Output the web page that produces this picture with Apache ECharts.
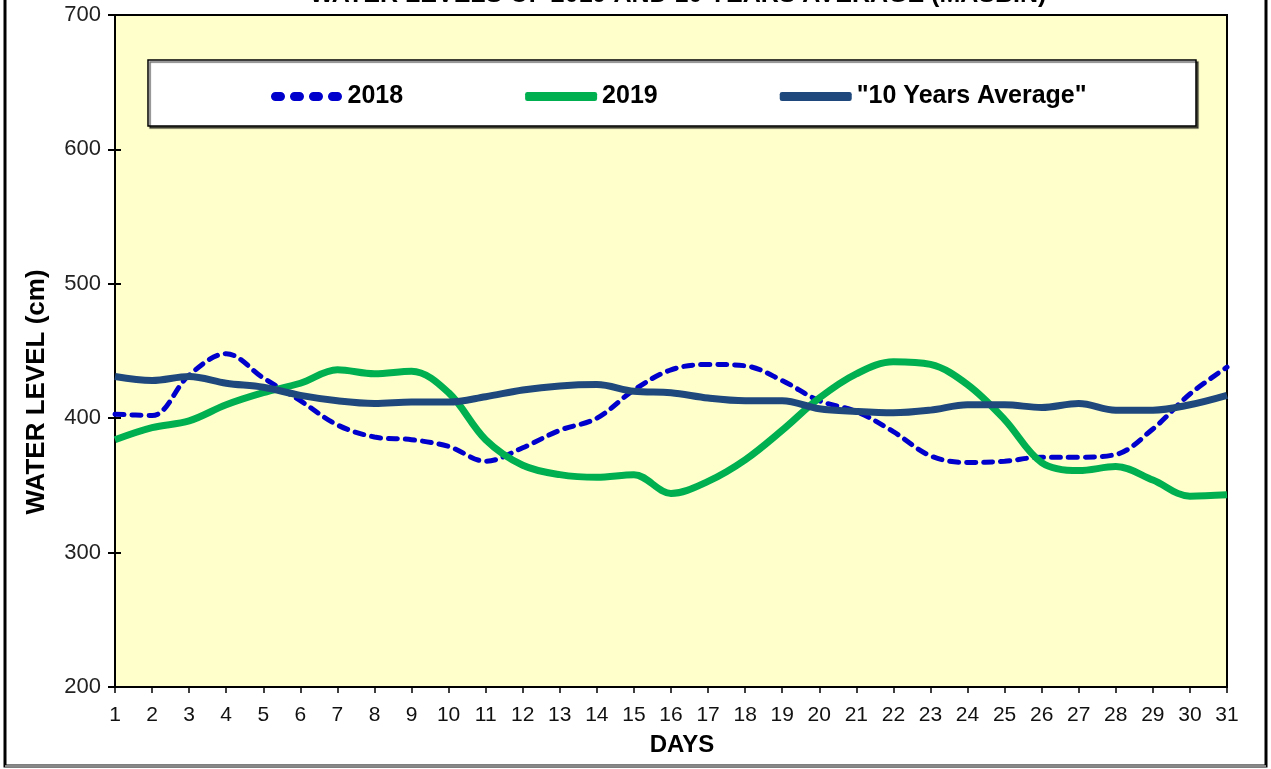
<!DOCTYPE html>
<html>
<head>
<meta charset="utf-8">
<script src="https://cdn.jsdelivr.net/npm/echarts@6/dist/echarts.min.js"></script>
<style>
html,body{margin:0;padding:0;background:#fff;}
#chart{width:1271px;height:769px;}
</style>
</head>
<body>
<div id="chart"></div>
<script>
const days = ['1','2','3','4','5','6','7','8','9','10','11','12','13','14','15','16','17','18','19','20','21','22','23','24','25','26','27','28','29','30','31'];
const y2018 = [403,402,432,448,430,413,395,386,384,379,368,378,391,400,421,436,440,439,428,413,405,390,372,367,368,371,371,373,392,418,438];
const y2019 = [384,393,398,410,419,426,436,433,435,419,384,365,358,356,358,344,353,369,391,415,433,442,440,425,399,367,361,364,354,342,343];
const yAvg = [431,428,431,426,423,417,413,411,412,412,416,421,424,425,420,419,415,413,413,407,405,404,406,410,410,408,411,406,406,410,417];
const yTicks = {min:200, max:700, interval:100};
const seriesNames = ['2018','2019','"10 Years Average"'];
const titleText = 'WATER LEVELS OF 2019 AND 10 YEARS AVERAGE (MASBIN)';

const chart = echarts.init(document.getElementById('chart'));
const FONT = 'Liberation Sans, Arial, sans-serif';
const NARROW = 'Liberation Sans Narrow, Arial Narrow, Liberation Sans, sans-serif';
const dashIcon = 'path://M4.5,0h5a4.5,4.5 0 0 1 0,9h-5a4.5,4.5 0 0 1 0,-9z M23.5,0h5a4.5,4.5 0 0 1 0,9h-5a4.5,4.5 0 0 1 0,-9z M42.5,0h5a4.5,4.5 0 0 1 0,9h-5a4.5,4.5 0 0 1 0,-9z M61.5,0h5a4.5,4.5 0 0 1 0,9h-5a4.5,4.5 0 0 1 0,-9z';
chart.setOption({
  animation:false,
  backgroundColor:'#ffffff',
  graphic:[
    {type:'rect', z:-10, silent:true, shape:{x:5,y:-10,width:1261,height:776},
     style:{fill:'#ffffff', stroke:'#000', lineWidth:3}},
    {type:'line', z:-9, silent:true, shape:{x1:5,y1:766,x2:1266,y2:766}, style:{stroke:'#888',lineWidth:2}},
    {type:'text', silent:true, x:678, y:8,
     style:{text:titleText, fill:'#000', font:'bold 25px '+FONT, align:'center', verticalAlign:'bottom'}},
    {type:'rect', silent:true, z:5, shape:{x:148,y:60,width:1048,height:66},
     style:{fill:'#ffffff', stroke:'#000', lineWidth:1.5, shadowColor:'rgba(0,0,0,0.6)', shadowOffsetX:2, shadowOffsetY:2, shadowBlur:1}},
    {type:'text', silent:true, rotation:Math.PI/2, x:37, y:392,
     style:{text:'WATER LEVEL (cm)', fill:'#000', font:'bold 26px '+FONT, align:'center', verticalAlign:'middle'}}
  ],
  legend:{
    z:10,
    left:266, top:79,
    itemGap:122,
    itemWidth:72, itemHeight:9,
    textStyle:{fontFamily:FONT, fontWeight:'bold', fontSize:25, color:'#000'},
    data:[
      {name:seriesNames[0], icon:dashIcon, itemStyle:{color:'#0000CC'}},
      {name:seriesNames[1], icon:'roundRect', itemStyle:{color:'#00B050'}},
      {name:seriesNames[2], icon:'roundRect', itemStyle:{color:'#1F497D'}}
    ]
  },
  grid:{left:115, right:44, top:15, bottom:82, show:true, backgroundColor:'#FFFFCC', borderColor:'#000', borderWidth:2},
  xAxis:{
    type:'category', data:days, boundaryGap:false,
    name:'DAYS', nameLocation:'middle', nameGap:46,
    nameTextStyle:{fontFamily:FONT, fontWeight:'bold', fontSize:24, color:'#000', padding:[0,0,0,22]},
    axisLine:{lineStyle:{color:'#000', width:2}},
    axisTick:{show:true, alignWithLabel:true, length:6, lineStyle:{color:'#000', width:1.5}},
    axisLabel:{fontFamily:NARROW, fontSize:21, color:'#111', margin:18, interval:0},
    splitLine:{show:false}
  },
  yAxis:[{
    type:'value', min:yTicks.min, max:yTicks.max, interval:yTicks.interval,
    axisLine:{show:true, lineStyle:{color:'#000', width:2}},
    axisTick:{show:true, length:7, lineStyle:{color:'#000', width:2}},
    axisLabel:{fontFamily:FONT, fontSize:22, color:'#222', margin:14},
    splitLine:{show:false}
  },{
    type:'value', min:yTicks.min, max:yTicks.max, interval:yTicks.interval, position:'left',
    axisLine:{show:false},
    axisTick:{show:true, inside:true, length:6, lineStyle:{color:'#000', width:2}},
    axisLabel:{show:false}, splitLine:{show:false}
  }],
  series:[
    {name:seriesNames[0], type:'line', data:y2018, smooth:0.35, showSymbol:false, symbol:'none',
     lineStyle:{color:'#0000CC', width:5, type:[9,8], cap:'round'}, itemStyle:{color:'#0000CC'}},
    {name:seriesNames[1], type:'line', data:y2019, smooth:0.35, showSymbol:false, symbol:'none',
     lineStyle:{color:'#00B050', width:7}, itemStyle:{color:'#00B050'}},
    {name:seriesNames[2], type:'line', data:yAvg, smooth:0.35, showSymbol:false, symbol:'none',
     lineStyle:{color:'#1F497D', width:7}, itemStyle:{color:'#1F497D'}}
  ]
});
</script>
</body>
</html>
